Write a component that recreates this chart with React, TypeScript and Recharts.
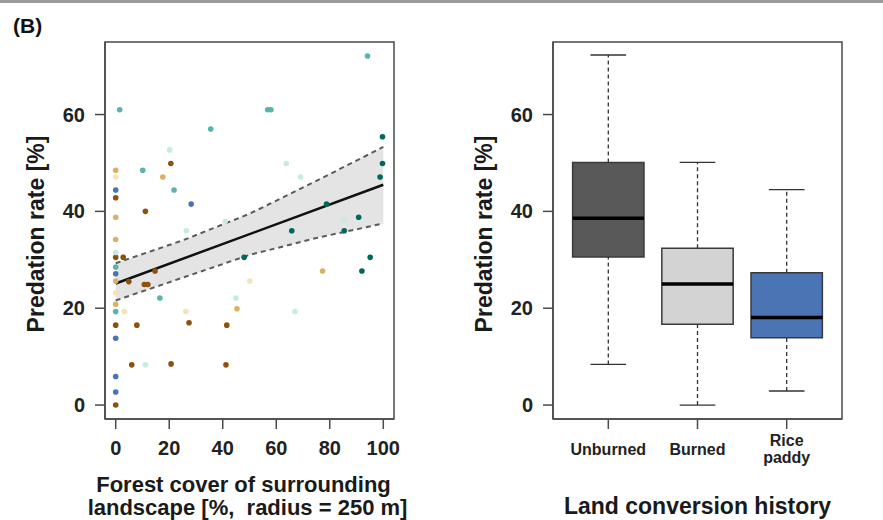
import React from 'react';
import {
  ComposedChart,
  Scatter,
  Line,
  Area,
  XAxis,
  YAxis,
  ReferenceArea,
  ReferenceLine,
} from 'recharts';

const FONT = '"Liberation Sans", Arial, Helvetica, sans-serif';

// ---------- Panel B-left: scatter points [forest cover %, predation rate %] ----------
const darkBrownPts: [number, number][] = [
  [20.6, 49.9], [0, 42.8], [11.1, 40.0], [0, 30.5], [2.8, 30.5], [4.9, 25.5],
  [14.7, 27.7], [10.7, 24.9], [12.0, 24.9], [27.4, 17.0], [0, 16.5], [7.9, 16.5],
  [41.5, 16.5], [6.0, 8.3], [20.7, 8.5], [41.2, 8.3], [0, 0],
];
const tanPts: [number, number][] = [
  [0, 48.5], [17.6, 47.1], [0, 38.8], [0, 34.2], [0, 25.6], [0, 20.8], [45.3, 19.9], [77.3, 27.7],
];
const paleYellowPts: [number, number][] = [
  [0, 47.1], [0, 23.2], [3.2, 19.3], [26.2, 19.3], [50.1, 25.6],
];
const paleTealPts: [number, number][] = [
  [20.2, 52.7], [63.7, 49.9], [69.1, 47.1], [85.5, 38.2], [40.9, 37.9], [26.4, 36.0],
  [0, 31.5], [44.9, 22.1], [67.0, 19.3], [11.1, 8.3],
];
const tealPts: [number, number][] = [
  [1.5, 61.0], [35.5, 57.0], [56.8, 61.0], [58.0, 61.0], [94.1, 72.1], [10.1, 48.5],
  [21.8, 44.4], [0, 28.5], [0, 19.3], [16.5, 22.1],
];
const darkTealPts: [number, number][] = [
  [99.7, 55.4], [99.7, 49.9], [98.8, 47.1], [78.8, 41.5], [90.8, 38.8], [85.4, 36.0],
  [65.8, 36.0], [48.0, 30.5], [92.0, 27.7], [95.1, 30.5],
];
const bluePts: [number, number][] = [
  [0, 44.4], [28.2, 41.5], [0, 27.1], [0, 13.8], [0, 5.9], [0, 2.7],
];

// fitted line and its confidence band
const fitX = [0, 100];
const fitY = [25.1, 45.5];
const ciX = [0, 25, 50, 75, 100];
const ciLower = [21.6, 26.3, 31.0, 34.5, 37.5];
const ciUpper = [29.3, 34.0, 39.5, 46.3, 53.3];

const xTicks = [0, 20, 40, 60, 80, 100];
const yTicks = [0, 20, 40, 60];

// ---------- Panel B-right: box plots ----------
const boxLabels = ['Unburned', 'Burned', 'Rice\npaddy'];
const boxMin = [8.4, 0.0, 2.9];
const boxQ1 = [30.6, 16.7, 13.9];
const boxMedian = [38.6, 25.0, 18.1];
const boxQ3 = [50.1, 32.4, 27.3];
const boxMax = [72.3, 50.1, 44.5];

// styles
const groupStyles = [
  { pts: darkBrownPts, color: '#8c510a' },
  { pts: tanPts, color: '#d8b365' },
  { pts: paleYellowPts, color: '#f3e3b8' },
  { pts: paleTealPts, color: '#c7eae5' },
  { pts: tealPts, color: '#5ab4ac' },
  { pts: darkTealPts, color: '#01665e' },
  { pts: bluePts, color: '#4575b4' },
];
const boxFills = ['#595959', '#d3d3d3', '#4a74b4'];

const X_DOMAIN: [number, number] = [-4, 104];
const Y_DOMAIN: [number, number] = [-2.88, 74.98];
const BOX_X_DOMAIN: [number, number] = [0.38, 3.62];

const FRAME = '#4a4a4a';

const fitData = fitX.map((x, i) => ({ x, fit: fitY[i] }));
const bandData = ciX.map((x, i) => ({ x, lo: ciLower[i], hi: ciUpper[i], band: [ciLower[i], ciUpper[i]] }));

const YTick = (props: any) => {
  const { x, y, payload } = props;
  return (
    <text x={x} y={y + 7} textAnchor="end" fontFamily={FONT} fontWeight="bold" fontSize={20} fill="#222">
      {payload.value}
    </text>
  );
};

const XNumTick = (props: any) => {
  const { x, y, payload } = props;
  return (
    <text x={x} y={y + 26} textAnchor="middle" fontFamily={FONT} fontWeight="bold" fontSize={20} fill="#222">
      {payload.value}
    </text>
  );
};

const XCatTick = (props: any) => {
  const { x, y, payload } = props;
  const idx = Math.round(payload.value) - 1;
  const lines = (boxLabels[idx] || '').split('\n');
  if (lines.length === 1) {
    return (
      <text x={x} y={y + 26} textAnchor="middle" fontFamily={FONT} fontWeight="bold" fontSize={16} fill="#222">
        {lines[0]}
      </text>
    );
  }
  return (
    <text textAnchor="middle" fontFamily={FONT} fontWeight="bold" fontSize={16} fill="#222">
      <tspan x={x} y={y + 17}>{lines[0]}</tspan>
      <tspan x={x} y={y + 34}>{lines[1]}</tspan>
    </text>
  );
};

const yTitle = () => (
  <text
    x={44}
    y={234}
    transform="rotate(-90, 44, 234)"
    textAnchor="middle"
    fontFamily={FONT}
    fontWeight="bold"
    fontSize={23}
    fill="#1a1a1a"
  >
    Predation rate [%]
  </text>
);

const leftXTitle = (props: any) => {
  const vb = props.viewBox || { x: 105, y: 419, width: 289 };
  const cx = vb.x + vb.width / 2;
  return (
    <g>
      <text x={cx - 6} y={vb.y + 73} textAnchor="middle" fontFamily={FONT} fontWeight="bold" fontSize={22} fill="#1a1a1a">
        Forest cover of surrounding
      </text>
      <text x={cx - 2} y={vb.y + 96} textAnchor="middle" fontFamily={FONT} fontWeight="bold" fontSize={22} fill="#1a1a1a">
        {'landscape [%,\u00A0 radius = 250 m]'}
      </text>
    </g>
  );
};

const rightXTitle = (props: any) => {
  const vb = props.viewBox || { x: 105, y: 419, width: 289 };
  const cx = vb.x + vb.width / 2;
  return (
    <text x={cx} y={vb.y + 95} textAnchor="middle" fontFamily={FONT} fontWeight="bold" fontSize={23} fill="#1a1a1a">
      Land conversion history
    </text>
  );
};

const medianPoints = boxMedian.map((m, i) => ({ x: i + 1, y: m }));

export default function App() {
  return (
    <div
      style={{
        position: 'absolute',
        left: 0,
        top: 0,
        width: 883,
        height: 520,
        overflow: 'hidden',
        background: '#ffffff',
        fontFamily: FONT,
      }}
    >
      <div style={{ position: 'absolute', left: 0, top: 0, width: 883, height: 3, background: '#9b9b9b' }} />
      <div
        style={{
          position: 'absolute',
          left: 13,
          top: 15,
          fontSize: 21,
          lineHeight: '21px',
          fontWeight: 'bold',
          color: '#111',
          fontFamily: FONT,
        }}
      >
        (B)
      </div>

      {/* Left panel: scatter with regression */}
      <div style={{ position: 'absolute', left: 0, top: 0 }}>
        <ComposedChart width={440} height={520} margin={{ top: 42, right: 46, bottom: 0, left: 0 }}>
          <XAxis
            type="number"
            dataKey="x"
            domain={X_DOMAIN}
            ticks={xTicks}
            allowDataOverflow
            height={101}
            tickSize={10}
            tickMargin={0}
            axisLine={{ stroke: FRAME, strokeWidth: 1.5 }}
            tickLine={{ stroke: FRAME, strokeWidth: 1.5 }}
            tick={<XNumTick />}
            interval={0}
            label={leftXTitle}
          />
          <YAxis
            type="number"
            domain={Y_DOMAIN}
            ticks={yTicks}
            allowDataOverflow
            width={105}
            tickSize={10}
            tickMargin={10}
            axisLine={{ stroke: FRAME, strokeWidth: 1.5 }}
            tickLine={{ stroke: FRAME, strokeWidth: 1.5 }}
            tick={<YTick />}
            interval={0}
            label={yTitle}
          />
          <ReferenceArea
            x1={X_DOMAIN[0]}
            x2={X_DOMAIN[1]}
            y1={Y_DOMAIN[0]}
            y2={Y_DOMAIN[1]}
            fill="none"
            fillOpacity={0}
            stroke={FRAME}
            strokeWidth={1.5}
          />
          <Area
            data={bandData}
            dataKey="band"
            type="linear"
            fill="#e4e4e4"
            fillOpacity={1}
            stroke="none"
            isAnimationActive={false}
            activeDot={false}
          />
          <Line
            data={bandData}
            dataKey="hi"
            type="linear"
            stroke="#5a5a5a"
            strokeWidth={2}
            strokeDasharray="5 4"
            dot={false}
            activeDot={false}
            isAnimationActive={false}
          />
          <Line
            data={bandData}
            dataKey="lo"
            type="linear"
            stroke="#5a5a5a"
            strokeWidth={2}
            strokeDasharray="5 4"
            dot={false}
            activeDot={false}
            isAnimationActive={false}
          />
          <Line
            data={fitData}
            dataKey="fit"
            type="linear"
            stroke="#111"
            strokeWidth={2.5}
            dot={false}
            activeDot={false}
            isAnimationActive={false}
          />
          {groupStyles.map((g, gi) => (
            <Scatter
              key={gi}
              data={g.pts.map(([x, y]) => ({ x, y }))}
              dataKey="y"
              fill={g.color}
              isAnimationActive={false}
              shape={(p: any) => <circle cx={p.cx} cy={p.cy} r={2.8} fill={g.color} />}
            />
          ))}
        </ComposedChart>
      </div>

      {/* Right panel: box plots */}
      <div style={{ position: 'absolute', left: 448, top: 0 }}>
        <ComposedChart width={435} height={520} margin={{ top: 42, right: 41, bottom: 0, left: 0 }}>
          <XAxis
            type="number"
            dataKey="x"
            domain={BOX_X_DOMAIN}
            ticks={[1, 2, 3]}
            allowDataOverflow
            height={101}
            tickSize={10}
            tickMargin={0}
            axisLine={{ stroke: FRAME, strokeWidth: 1.5 }}
            tickLine={{ stroke: FRAME, strokeWidth: 1.5 }}
            tick={<XCatTick />}
            interval={0}
            label={rightXTitle}
          />
          <YAxis
            type="number"
            domain={Y_DOMAIN}
            ticks={yTicks}
            allowDataOverflow
            width={105}
            tickSize={10}
            tickMargin={10}
            axisLine={{ stroke: FRAME, strokeWidth: 1.5 }}
            tickLine={{ stroke: FRAME, strokeWidth: 1.5 }}
            tick={<YTick />}
            interval={0}
            label={yTitle}
          />
          <ReferenceArea
            x1={BOX_X_DOMAIN[0]}
            x2={BOX_X_DOMAIN[1]}
            y1={Y_DOMAIN[0]}
            y2={Y_DOMAIN[1]}
            fill="none"
            fillOpacity={0}
            stroke={FRAME}
            strokeWidth={1.5}
          />
          {boxLabels.map((_, i) => (
            <ReferenceLine
              key={`wu${i}`}
              segment={[{ x: i + 1, y: boxQ3[i] }, { x: i + 1, y: boxMax[i] }]}
              stroke="#333"
              strokeWidth={1.3}
              strokeDasharray="4 3"
            />
          ))}
          {boxLabels.map((_, i) => (
            <ReferenceLine
              key={`wl${i}`}
              segment={[{ x: i + 1, y: boxMin[i] }, { x: i + 1, y: boxQ1[i] }]}
              stroke="#333"
              strokeWidth={1.3}
              strokeDasharray="4 3"
            />
          ))}
          {boxLabels.map((_, i) => (
            <ReferenceLine
              key={`ct${i}`}
              segment={[{ x: i + 0.8, y: boxMax[i] }, { x: i + 1.2, y: boxMax[i] }]}
              stroke="#333"
              strokeWidth={1.3}
            />
          ))}
          {boxLabels.map((_, i) => (
            <ReferenceLine
              key={`cb${i}`}
              segment={[{ x: i + 0.8, y: boxMin[i] }, { x: i + 1.2, y: boxMin[i] }]}
              stroke="#333"
              strokeWidth={1.3}
            />
          ))}
          {boxLabels.map((_, i) => (
            <ReferenceArea
              key={`b${i}`}
              x1={i + 0.6}
              x2={i + 1.4}
              y1={boxQ1[i]}
              y2={boxQ3[i]}
              fill={boxFills[i]}
              fillOpacity={1}
              stroke="#3a3a3a"
              strokeWidth={1.5}
            />
          ))}
          {boxLabels.map((_, i) => (
            <ReferenceLine
              key={`m${i}`}
              segment={[{ x: i + 0.6, y: boxMedian[i] }, { x: i + 1.4, y: boxMedian[i] }]}
              stroke="#000"
              strokeWidth={3.5}
            />
          ))}
          <Scatter
            data={medianPoints}
            dataKey="y"
            fill="none"
            isAnimationActive={false}
            shape={() => <g />}
          />
        </ComposedChart>
      </div>
    </div>
  );
}
